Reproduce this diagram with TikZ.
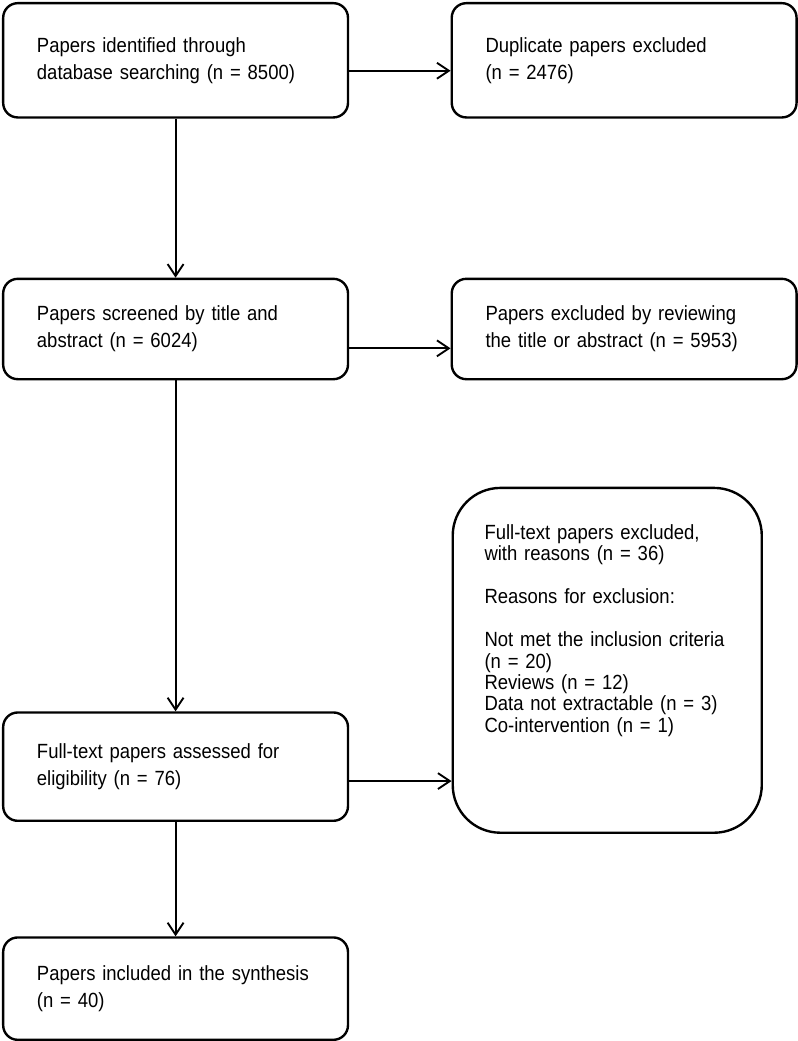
\documentclass[tikz,border=0pt]{standalone}
\usepackage{fontspec}
\setmainfont{Liberation Sans}[FakeStretch=0.9]
\usetikzlibrary{arrows.meta,positioning}
\tikzset{
 box/.style={draw,line width=1.8pt,rounded corners=11pt,align=left,
             text width=209.25pt,inner xsep=25.5pt,minimum width=260.25pt,
             font=\fontsize{15.5pt}{20.25pt}\selectfont},
 bigbox/.style={draw,line width=1.8pt,rounded corners=36pt,align=left,
             text width=185.25pt,inner xsep=24pt,minimum width=233.25pt,
             minimum height=260.25pt,font=\fontsize{15.5pt}{16.2pt}\selectfont},
 arrow/.style={-{Straight Barb[length=9pt,width=12pt]},line width=1.4pt}
}
\begin{document}
\begin{tikzpicture}[node distance=76.5pt]
\node[box,minimum height=86.25pt] (ident) {Papers identified through\\database searching (n = 8500)};
\node[box,minimum height=86.25pt,right=of ident] (dup) {Duplicate papers excluded\\(n = 2476)};
\node[box,minimum height=75.75pt,below=120pt of ident] (screen) {Papers screened by title and\\abstract (n = 6024)};
\node[box,minimum height=75.75pt,right=of screen] (titleexcl) {Papers excluded by reviewing\\the title or abstract (n = 5953)};
\node[box,minimum height=81.75pt,below=249.75pt of screen] (assess) {Full-text papers assessed for\\eligibility (n = 76)};
\node[box,minimum height=77.25pt,below=86.25pt of assess] (incl) {Papers included in the synthesis\\(n = 40)};
\node[bigbox,right=77.25pt of assess,yshift=80.25pt] (fullexcl) {Full-text papers excluded,\\with reasons (n = 36)\\[16.2pt]Reasons for exclusion:\\[16.2pt]Not met the inclusion criteria\\(n = 20)\\Reviews (n = 12)\\Data not extractable (n = 3)\\Co-intervention (n = 1)\\[32pt]\mbox{}};
% side arrows sit a bit below the box middles
\coordinate (a1) at ([yshift=-7.9pt]ident.east);
\coordinate (a2) at ([yshift=-14.6pt]screen.east);
\coordinate (a3) at ([yshift=-10.9pt]assess.east);
\draw[arrow] (a1) -- (a1 -| dup.west);
\draw[arrow] (a2) -- (a2 -| titleexcl.west);
\draw[arrow] (a3) -- (a3 -| fullexcl.west);
\draw[arrow] (ident) -- (screen);
\draw[arrow] (screen) -- (assess);
\draw[arrow] (assess) -- (incl);
\useasboundingbox ([shift={(-1.5pt,1.5pt)}]ident.north west) rectangle ++(600pt,-780.75pt);
\end{tikzpicture}
\end{document}
